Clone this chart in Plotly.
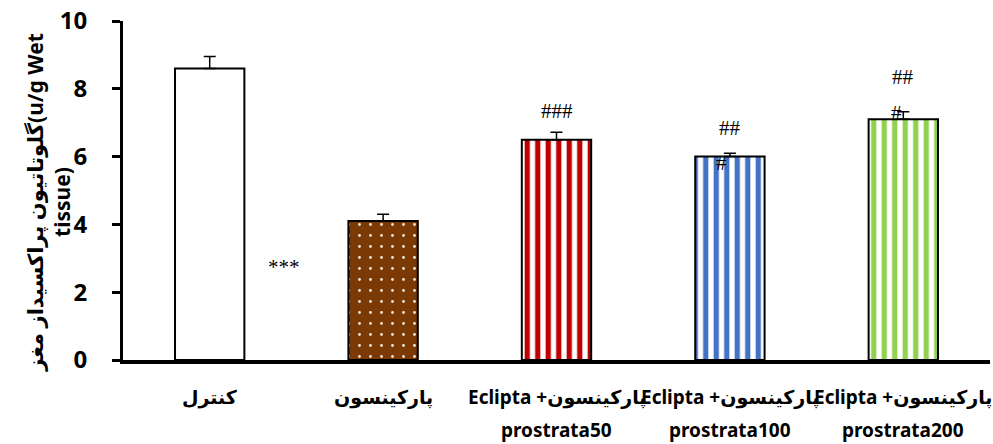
import plotly.graph_objects as go

# Group labels: first and second line of each x label
label_line1 = [
    "کنترل",
    "پارکینسون",
    "Eclipta +پارکینسون",
    "Eclipta +پارکینسون",
    "Eclipta +پارکینسون",
]
label_line2 = ["", "", "prostrata50", "prostrata100", "prostrata200"]
means = [8.6, 4.1, 6.5, 6.0, 7.1]
errors = [0.35, 0.2, 0.22, 0.1, 0.22]

# Bar fills: base colour, pattern shape, pattern colour
bg_colors = ["white", "#7B3A05", "white", "white", "white"]
shapes = ["", ".", "|", "|", "|"]
fg_colors = ["white", "#F2E6DA", "#C00000", "#4472C4", "#92D050"]
sizes = [10, 11, 10.5, 10.5, 10.5]
solidities = [0.3, 0.05, 0.5, 0.5, 0.5]

# Significance marks: text, x position, y value
sig_text = ["***", "###", "##", "#", "##", "#"]
sig_x = [0.43, 2.0, 3.0, 2.95, 4.0, 3.96]
sig_y = [2.75, 7.35, 6.85, 5.8, 8.35, 7.3]

y_title_line1 = "گلوتاتیون پراکسیداز مغز(u/g Wet"
y_title_line2 = "tissue)"

fig = go.Figure()
for i in range(len(means)):
    fig.add_trace(go.Bar(
        x=[i],
        y=[means[i]],
        width=0.4,
        marker=dict(
            color=bg_colors[i],
            line=dict(color="black", width=2),
            pattern=dict(shape=shapes[i], fgcolor=fg_colors[i],
                         bgcolor=bg_colors[i], size=sizes[i],
                         solidity=solidities[i], fillmode="replace"),
        ),
        error_y=dict(type="data", array=[errors[i]], arrayminus=[0],
                     symmetric=False, color="black", thickness=1.5, width=6),
        showlegend=False,
    ))

for t, xx, yy in zip(sig_text, sig_x, sig_y):
    fig.add_annotation(x=xx, y=yy, text=t, showarrow=False,
                       font=dict(family="Liberation Serif", size=21, color="black"))

# Category labels under the axis (two lines with wide line spacing)
for i, (l1, l2) in enumerate(zip(label_line1, label_line2)):
    fig.add_annotation(x=i, y=0, yref="paper", yanchor="middle", yshift=-37,
                       text="<b>" + l1 + "</b>", showarrow=False,
                       font=dict(size=19, family="Noto Sans, DejaVu Sans"))
    if l2:
        fig.add_annotation(x=i, y=0, yref="paper", yanchor="middle", yshift=-70,
                           text="<b>" + l2 + "</b>", showarrow=False,
                           font=dict(size=19, family="Noto Sans, DejaVu Sans"))

# Rotated y-axis title
fig.add_annotation(xref="paper", yref="paper", x=-0.086, y=0.465,
                   xanchor="center", yanchor="middle", textangle=-90,
                   text="<b>" + y_title_line1 + "<br>" + y_title_line2 + "</b>",
                   showarrow=False,
                   font=dict(size=21, family="Noto Sans, DejaVu Sans"))

fig.update_layout(
    width=993, height=444,
    margin=dict(l=123, r=3, t=19, b=84),
    paper_bgcolor="white", plot_bgcolor="white",
    font=dict(family="Noto Sans, DejaVu Sans", color="black"),
    barmode="overlay",
)
fig.update_xaxes(
    tickmode="array", tickvals=list(range(len(means))),
    ticktext=[""] * len(means),
    range=[-0.5, 4.5], showline=True, linecolor="black", linewidth=4,
    ticks="", showgrid=False, zeroline=False,
)
fig.update_yaxes(
    range=[0, 10], dtick=2, showline=True, linecolor="black", linewidth=3,
    ticks="outside", ticklen=8, tickwidth=2.5, tickcolor="black",
    tickfont=dict(size=24, family="Noto Sans", weight="bold"),
    ticklabelstandoff=20,
    showgrid=False, zeroline=False,
)

fig.write_html("out.html")
